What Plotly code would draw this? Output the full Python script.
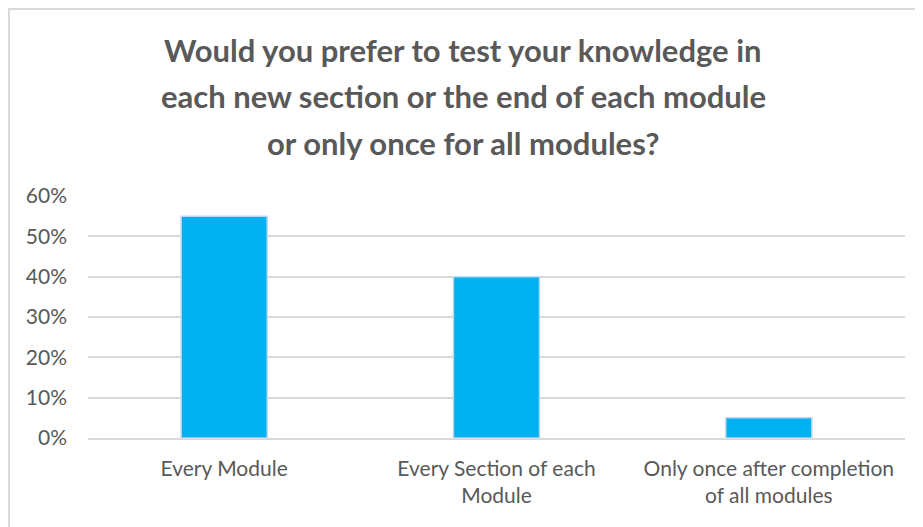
import plotly.graph_objects as go

categories = ["Every Module", "Every Section of each<br>Module",
              "Only once after completion<br>of all modules"]
shares = [0.55, 0.40, 0.05]
tick_vals = [0, 0.1, 0.2, 0.3, 0.4, 0.5, 0.6]
tick_text = ["0%", "10%", "20%", "30%", "40%", "50%", "60%"]

title_lines = ["Would you prefer to test your knowledge in",
               "each new section or the end of each module",
               "or only once for all modules?"]
title_y = [1.603, 1.413, 1.221]

GREY = "#595959"

fig = go.Figure(go.Bar(
    x=categories, y=shares, width=0.316,
    marker=dict(color="#00B0F0", line=dict(color="#BDD7EE", width=1.5)),
))

# title drawn line by line to get the wider line spacing of the original
for line, yy in zip(title_lines, title_y):
    fig.add_annotation(text="<b>" + line + "</b>", xref="paper", yref="paper",
                       x=0.459, y=yy, xanchor="center", yanchor="middle",
                       showarrow=False, font=dict(size=31, color=GREY, family="Lato"))

fig.update_layout(
    width=915, height=519,
    margin=dict(l=80, r=18, t=188, b=89, autoexpand=False),
    paper_bgcolor="white", plot_bgcolor="white",
    font=dict(family="Lato", color=GREY),
    showlegend=False,
    shapes=[dict(type="rect", xref="paper", yref="paper",
                 x0=-0.0967, x1=1.0208, y0=-0.5, y1=1.773,
                 line=dict(color="#D9D9D9", width=2), layer="below")],
)

fig.update_yaxes(range=[0, 0.6], tickvals=tick_vals, ticktext=tick_text,
                 showgrid=True, gridcolor="#D9D9D9", gridwidth=1.5,
                 zeroline=False, showline=False, automargin=False,
                 tickfont=dict(size=21, color=GREY), ticks="", ticklabelstandoff=20)
fig.update_xaxes(showline=True, linecolor="#D9D9D9", linewidth=1.5,
                 automargin=False, ticklabelstandoff=11,
                 tickfont=dict(size=21, color=GREY), ticks="")

fig.write_html("out.html")
